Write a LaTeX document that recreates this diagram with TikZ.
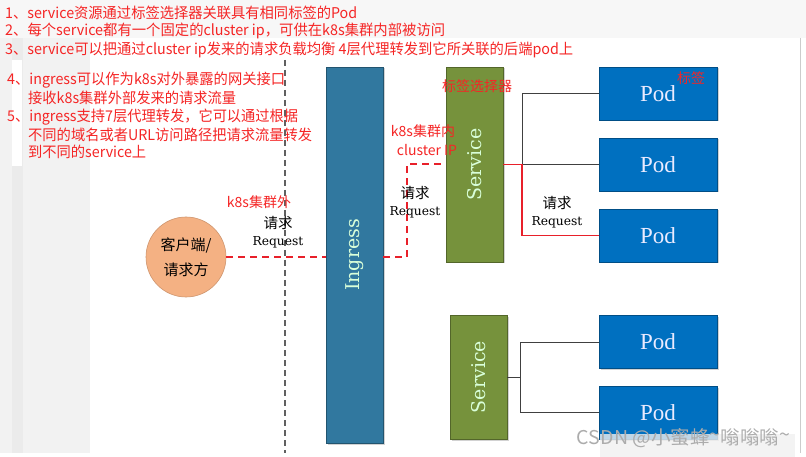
\documentclass[tikz,border=0pt]{standalone}
\usepackage{fontspec}
\usepackage{graphicx}
\newfontfamily\cjk{Noto Sans CJK SC}
\newfontfamily\serifA{DejaVu Serif}
\newfontfamily\serifB{Liberation Serif}
\usetikzlibrary{calc,shadows}
\definecolor{redtxt}{HTML}{F52525}
\definecolor{redline}{HTML}{E8202A}
\definecolor{ingblue}{HTML}{31789F}
\definecolor{svcgreen}{HTML}{76923C}
\definecolor{podblue}{HTML}{0070C0}
\definecolor{peach}{HTML}{F4B183}
\newcommand{\fitw}[2]{\resizebox{#1pt}{\height}{#2}}
\tikzset{
  note/.style={anchor=west,inner sep=0,text=redtxt,font=\cjk\fontsize{14.8}{17}\selectfont},
  rlabel/.style={inner sep=0,text=redtxt,font=\cjk\fontsize{14}{16}\selectfont},
  reqcn/.style={inner sep=0,font=\cjk\fontsize{14.5}{16}\selectfont},
  reqen/.style={inner sep=0,font=\serifA\fontsize{12.3}{14}\selectfont},
  boxbase/.style={draw,inner sep=0,line width=0.8pt,drop shadow={shadow xshift=1.5pt,shadow yshift=-1.5pt,opacity=0.35}},
  ingbox/.style={boxbase,fill=ingblue,draw=ingblue!70!black},
  svcbox/.style={boxbase,fill=svcgreen,draw=svcgreen!70!black,minimum width=57pt},
  podbox/.style={boxbase,fill=podblue,draw=podblue!70!black,minimum width=118pt,minimum height=53pt,
     text=white!92!blue,font=\serifB\fontsize{23}{26}\selectfont},
  vtext/.style={rotate=90,inner sep=0,text=white!85!green,font=\serifA\fontsize{19}{22}\selectfont},
  reddash/.style={redline,line width=2.2pt,dash pattern=on 7pt off 5pt},
  redsolid/.style={redline,line width=1.8pt},
  blackline/.style={black!75,line width=1pt},
}
\begin{document}
\begin{tikzpicture}[x=1pt,y=-1pt]
\useasboundingbox (0,0) rectangle (806,457);
% background (screenshot frame)
\fill[white] (0,0) rectangle (806,457);
\fill[gray!6] (0,0) rectangle (806,38);
\fill[gray!10] (0,38) rectangle (90,453);
\fill[gray!16] (12,38) rectangle (23,453);
\fill[white] (12,60) rectangle (22,166);
\draw[gray!40,line width=0.6pt] (800,38) -- (800,453);

% top notes
\node[note] (n1) at (5,12.5) {\fitw{352}{1、service资源通过标签选择器关联具有相同标签的Pod}};
\node[note] (n2) at (5,31) {\fitw{440}{2、每个service都有一个固定的cluster ip，可供在k8s集群内部被访问}};
\node[note] (n3) at (5,49.5) {\fitw{568}{3、service可以把通过cluster ip发来的请求负载均衡 4层代理转发到它所关联的后端pod上}};
\node[note] (n4) at (7,80) {\fitw{278}{4、ingress可以作为k8s对外暴露的网关接口}};
\node[note] (n4b) at (28,98) {\fitw{208}{接收k8s集群外部发来的请求流量}};
\node[note] (n5) at (7,117) {\fitw{291}{5、ingress支持7层代理转发，它可以通过根据}};
\node[note] (n5b) at (28,135) {\fitw{284}{不同的域名或者URL访问路径把请求流量转发}};
\node[note] (n5c) at (28,152) {\fitw{118}{到不同的service上}};

% cluster boundary
\coordinate (bt) at (285,60);
\coordinate (bb) at (285,453);
\draw[gray!75!black,line width=1.3pt,dash pattern=on 6pt off 4pt] (bt) -- (bb);

% client
\node[circle,fill=peach,draw=peach!85!black,line width=0.6pt,minimum size=80pt,inner sep=0,
  align=center,font=\cjk\fontsize{15}{25}\selectfont] (client) at (186,257) {客户端/\\请求方};

% ingress
\node[ingbox,minimum width=57pt,minimum height=376pt] (ingress) at (354.5,255) {};
\node[vtext] (ingt) at (ingress.center) {Ingress};

% services
\node[svcbox,minimum height=195pt] (svc1) at (474.5,164.5) {};
\node[vtext] (svc1t) at (svc1.center) {Service};
\node[svcbox,minimum height=124pt] (svc2) at (478.5,377) {};
\node[vtext] (svc2t) at (svc2.center) {Service};

% pods
\node[podbox] (pod1) at (658,93.5) {Pod};
\node[podbox] (pod2) at (658,164.5) {Pod};
\node[podbox] (pod3) at (658,235.5) {Pod};
\node[podbox] (pod4) at (658,342) {Pod};
\node[podbox] (pod5) at (658,412.5) {Pod};

% connectors
\coordinate (k1) at (407,164);
\coordinate (j1) at (522,164.5);
\coordinate (j2) at (520,377);
\draw[reddash] (client.east) -- (client.east -| ingress.west);
\draw[reddash] (ingress.east |- client.east) -| (k1) -- (k1 -| svc1.west);
\draw[blackline] (j1) |- (pod1.west);
\draw[blackline] (j1) -- (pod2.west);
\draw[redsolid] (svc1.east |- j1) -- (j1) |- (pod3.west);
\draw[blackline] (svc2.east) -- (j2);
\draw[blackline] (j2) |- (pod4.west);
\draw[blackline] (j2) |- (pod5.west);

% labels
\node[rlabel] (lout) at (259,202) {k8s集群外};
\node[reqcn] (rq1) at (278,223) {请求};
\node[reqen] (rq1e) at (278,242) {Request};
\node[rlabel] (lin1) at (423,131) {k8s集群内};
\node[rlabel] (lin2) at (427,150) {cluster IP};
\node[reqcn] (rq2) at (415,193) {请求};
\node[reqen] (rq2e) at (415,212) {Request};
\node[rlabel] (lsel) at (477,86) {标签选择器};
\node[rlabel] (ltag) at (691,78) {标签};
\node[reqcn] (rq3) at (557,203) {请求};
\node[reqen] (rq3e) at (557,222) {Request};

% watermark
\fill[gray!12,opacity=0.8] (600,434) rectangle (795,457);
\node[inner sep=0,text=gray!65,font=\cjk\fontsize{19}{21}\selectfont] (wm) at (683.5,438) {\fitw{213}{CSDN @小蜜蜂\raisebox{0.25ex}{\textasciitilde}嗡嗡嗡\raisebox{0.25ex}{\textasciitilde}}};
\end{tikzpicture}
\end{document}
